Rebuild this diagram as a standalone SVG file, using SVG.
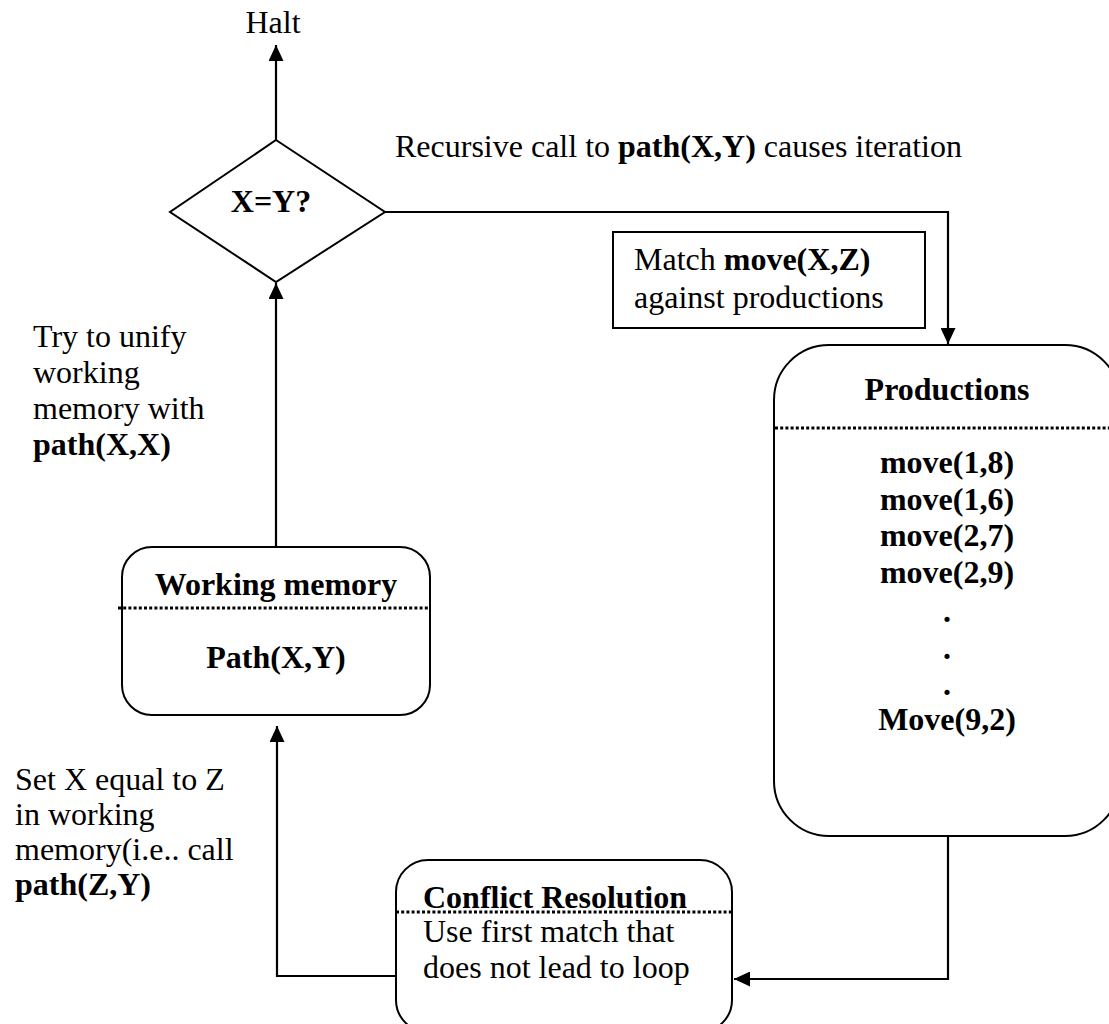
<svg xmlns="http://www.w3.org/2000/svg" width="1109" height="1024" viewBox="0 0 1109 1024">
<style>
text{font-family:"Liberation Serif","Times New Roman",serif;font-size:32px;fill:#000}
.b{font-weight:bold}
.c{text-anchor:middle}
.box{fill:none;stroke:#000;stroke-width:2}
.dot{stroke:#000;stroke-width:3;stroke-dasharray:3 2.2}
.con{fill:none;stroke:#000;stroke-width:2.2}
</style>
<defs>
<marker id="arr" viewBox="0 0 10 10" refX="10" refY="5" markerUnits="userSpaceOnUse" markerWidth="16" markerHeight="15" orient="auto" preserveAspectRatio="none">
<path d="M0,0 L10,5 L0,10 z" fill="#000"/>
</marker>
</defs>
<rect width="1109" height="1024" fill="#fff"/>

<g id="connectors">
<polyline class="con" points="276,140 276,45" marker-end="url(#arr)"/>
<polyline class="con" points="385,212 948,212 948,344" marker-end="url(#arr)"/>
<polyline class="con" points="276,547 276,283" marker-end="url(#arr)"/>
<polyline class="con" points="948,836 948,979 734,979" marker-end="url(#arr)"/>
<polyline class="con" points="396,976 277,976 277,726" marker-end="url(#arr)"/>
</g>

<g id="halt">
<text x="273" y="33" class="c">Halt</text>
</g>

<g id="decision">
<polygon class="box" points="276,140 385,212 276,282 170,212"/>
<text x="271" y="212" class="b c">X=Y?</text>
</g>

<g id="label-recursive">
<text x="395" y="157">Recursive call to <tspan class="b">path(X,Y)</tspan> causes iteration</text>
</g>

<g id="match">
<rect class="box" x="613" y="232" width="312" height="96"/>
<text x="634" y="270">Match <tspan class="b">move(X,Z)</tspan></text>
<text x="634" y="308">against productions</text>
</g>

<g id="productions">
<rect class="box" x="774" y="345" width="346" height="491" rx="55" ry="55"/>
<line class="dot" x1="775" y1="428" x2="1109" y2="428"/>
<text x="947" y="400" class="b c">Productions</text>
<text x="947" y="473" class="b c">move(1,8)</text>
<text x="947" y="510" class="b c">move(1,6)</text>
<text x="947" y="546" class="b c">move(2,7)</text>
<text x="947" y="583" class="b c">move(2,9)</text>
<text x="947" y="622" class="b c">.</text>
<text x="947" y="659" class="b c">.</text>
<text x="947" y="695" class="b c">.</text>
<text x="947" y="730" class="b c">Move(9,2)</text>
</g>

<g id="label-unify">
<text x="33" y="347">Try to unify</text>
<text x="33" y="383">working</text>
<text x="33" y="419">memory with</text>
<text x="33" y="455" class="b">path(X,X)</text>
</g>

<g id="working-memory">
<rect class="box" x="122" y="547" width="308" height="168" rx="30" ry="30"/>
<line class="dot" x1="118" y1="608" x2="430" y2="608"/>
<text x="276" y="595" class="b c">Working memory</text>
<text x="276" y="668" class="b c">Path(X,Y)</text>
</g>

<g id="label-set">
<text x="15" y="790">Set X equal to Z</text>
<text x="15" y="825">in working</text>
<text x="15" y="860">memory(i.e.. call</text>
<text x="15" y="895" class="b">path(Z,Y)</text>
</g>

<g id="conflict">
<rect class="box" x="396" y="860" width="336" height="172" rx="32" ry="32"/>
<line class="dot" x1="396" y1="912" x2="732" y2="912"/>
<text x="423" y="908" class="b">Conflict Resolution</text>
<text x="423" y="942">Use first match that</text>
<text x="423" y="978">does not lead to loop</text>
</g>
</svg>
